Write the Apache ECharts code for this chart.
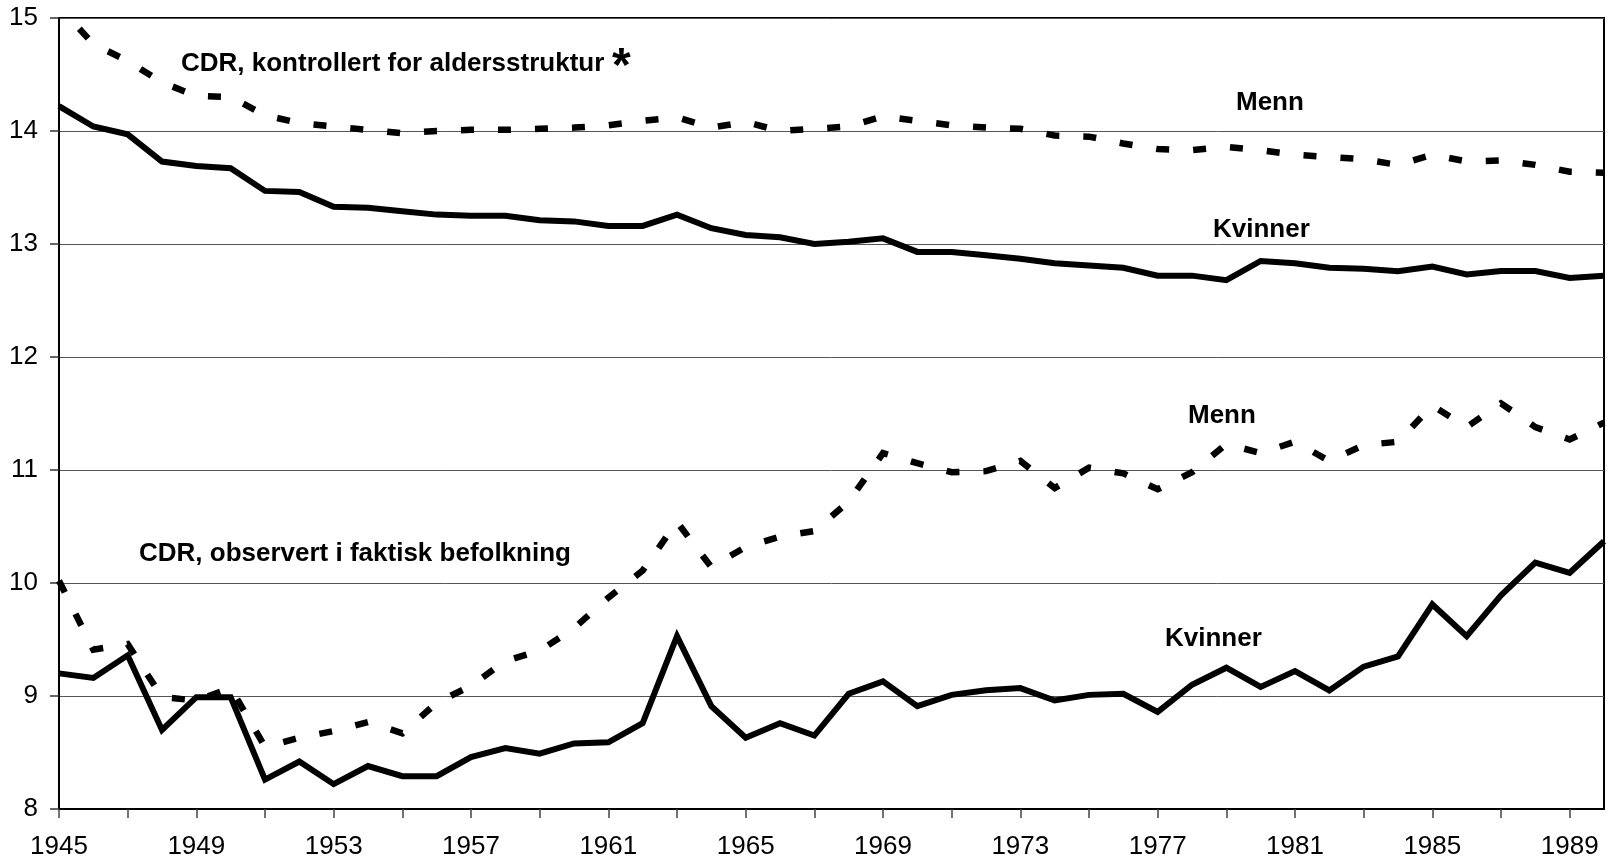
<!DOCTYPE html>
<html>
<head>
<meta charset="utf-8">
<script src="https://cdn.jsdelivr.net/npm/echarts@6.0.0/dist/echarts.min.js"></script>
<style>
html,body{margin:0;padding:0;background:#fff;}
#chart{width:1613px;height:860px;}
</style>
</head>
<body>
<div id="chart"></div>
<script>
// Years (x categories)
const years = ['1945','1946','1947','1948','1949','1950','1951','1952','1953','1954',
  '1955','1956','1957','1958','1959','1960','1961','1962','1963','1964',
  '1965','1966','1967','1968','1969','1970','1971','1972','1973','1974',
  '1975','1976','1977','1978','1979','1980','1981','1982','1983','1984',
  '1985','1986','1987','1988','1989','1990'];

// CDR, kontrollert for aldersstruktur - Menn (dashed)
const ctrlMenn = [15.10,14.77,14.62,14.43,14.31,14.30,14.14,14.07,14.04,14.01,
  13.98,14.00,14.01,14.01,14.02,14.03,14.05,14.09,14.12,14.03,
  14.08,14.00,14.02,14.04,14.13,14.09,14.05,14.03,14.02,13.96,
  13.95,13.89,13.84,13.83,13.86,13.83,13.79,13.77,13.75,13.70,
  13.79,13.73,13.74,13.70,13.64,13.63];

// CDR, kontrollert for aldersstruktur - Kvinner (solid)
const ctrlKvinner = [14.22,14.04,13.97,13.73,13.69,13.67,13.47,13.46,13.33,13.32,
  13.29,13.26,13.25,13.25,13.21,13.20,13.16,13.16,13.26,13.14,
  13.08,13.06,13.00,13.02,13.05,12.93,12.93,12.90,12.87,12.83,
  12.81,12.79,12.72,12.72,12.68,12.85,12.83,12.79,12.78,12.76,
  12.80,12.73,12.76,12.76,12.70,12.72];

// CDR, observert i faktisk befolkning - Menn (dashed)
const obsMenn = [10.02,9.41,9.46,8.99,8.96,9.07,8.55,8.63,8.69,8.77,
  8.67,8.94,9.09,9.31,9.40,9.60,9.87,10.11,10.54,10.14,
  10.32,10.41,10.46,10.72,11.15,11.06,10.98,10.99,11.08,10.84,
  11.02,10.97,10.83,10.98,11.23,11.15,11.25,11.08,11.22,11.25,
  11.57,11.38,11.59,11.38,11.27,11.42];

// CDR, observert i faktisk befolkning - Kvinner (solid)
const obsKvinner = [9.20,9.16,9.36,8.70,8.99,8.99,8.26,8.42,8.22,8.38,
  8.29,8.29,8.46,8.54,8.49,8.58,8.59,8.76,9.53,8.91,
  8.63,8.76,8.65,9.02,9.13,8.91,9.01,9.05,9.07,8.96,
  9.01,9.02,8.86,9.10,9.25,9.08,9.22,9.05,9.26,9.35,
  9.81,9.53,9.89,10.18,10.09,10.37];

const FONT = '"Liberation Sans", Arial, sans-serif';
const chart = echarts.init(document.getElementById('chart'), null, {renderer: 'canvas'});

function dashed(offset) {
  return {color: '#000', width: 6.5, type: [13, 24], dashOffset: offset, cap: 'butt', join: 'miter'};
}
const solid = {color: '#000', width: 6, type: 'solid', join: 'miter'};

function lineSeries(name, data, style) {
  return {
    name: name, type: 'line', data: data, symbol: 'none', clip: true,
    lineStyle: style, itemStyle: {color: '#000'}, silent: true, z: 5
  };
}

function txt(text, x, y, size, weight) {
  return {
    type: 'text', x: x, y: y, z: 100,
    style: {
      text: text, fill: '#000',
      font: (weight || 'bold') + ' ' + (size || 26) + 'px ' + FONT,
      align: 'left', verticalAlign: 'middle'
    }
  };
}

chart.setOption({
  animation: false,
  backgroundColor: '#fff',
  grid: {left: 59, right: 9, top: 18, bottom: 51, show: true,
         borderColor: '#000', borderWidth: 2, backgroundColor: 'transparent'},
  xAxis: {
    type: 'category', data: years, boundaryGap: false,
    axisLine: {show: true, lineStyle: {color: '#000', width: 2}},
    axisTick: {show: true, inside: false, length: 9,
               interval: function (i) { return i % 2 === 0; },
               lineStyle: {color: '#444', width: 1.5}},
    axisLabel: {show: true, interval: function (i) { return i % 4 === 0; },
                margin: 25, color: '#000', fontSize: 26, fontFamily: FONT},
    splitLine: {show: false}
  },
  yAxis: {
    type: 'value', min: 8, max: 15, interval: 1,
    axisLine: {show: true, lineStyle: {color: '#000', width: 2}},
    axisTick: {show: true, inside: false, length: 9, lineStyle: {color: '#333', width: 1.5}},
    axisLabel: {margin: 21, color: '#000', fontSize: 26, fontFamily: FONT},
    splitLine: {show: true, lineStyle: {color: '#555', width: 1}}
  },
  series: [
    lineSeries('Menn (kontrollert)', ctrlMenn, dashed(7)),
    lineSeries('Kvinner (kontrollert)', ctrlKvinner, solid),
    lineSeries('Menn (observert)', obsMenn, dashed(0)),
    lineSeries('Kvinner (observert)', obsKvinner, solid)
  ],
  graphic: [
    txt('CDR, kontrollert for aldersstruktur', 181, 63.5),
    txt('*', 612, 68, 48),
    txt('Menn', 1236, 102.5),
    txt('Kvinner', 1213, 229.5),
    txt('Menn', 1188, 416),
    txt('CDR, observert i faktisk befolkning', 139, 553.5),
    txt('Kvinner', 1165, 639)
  ]
});
</script>
</body>
</html>
